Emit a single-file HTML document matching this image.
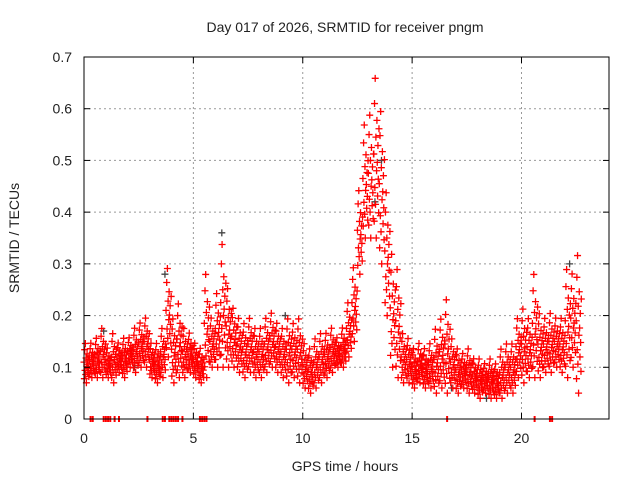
<!DOCTYPE html>
<html><head><meta charset="utf-8"><style>
body{margin:0;background:#fff}
svg text{font-family:"Liberation Sans",sans-serif;fill:#222}
</style></head><body>
<svg id="chart" width="640" height="480" viewBox="0 0 640 480" xmlns="http://www.w3.org/2000/svg">
<rect width="640" height="480" fill="#fff"/>
<text x="345" y="32" font-size="14" text-anchor="middle">Day 017 of 2026, SRMTID for receiver pngm</text>
<text x="345" y="471" font-size="14" text-anchor="middle">GPS time / hours</text>
<text x="19" y="238" font-size="14" text-anchor="middle" transform="rotate(-90 19 238)">SRMTID / TECUs</text>
<g id="grid"></g><g id="marks"></g><g id="axes"></g>
</svg>
<script>
const xTicks=[0,5,10,15,20];
const yTicks=[0,0.1,0.2,0.3,0.4,0.5,0.6,0.7];
const yTickLabels=["0","0.1","0.2","0.3","0.4","0.5","0.6","0.7"];
const binHours=[0,0.25,0.5,0.75,1,1.25,1.5,1.75,2,2.25,2.5,2.75,3,3.25,3.5,3.75,4,4.25,4.5,4.75,5,5.25,5.5,5.75,6,6.25,6.5,6.75,7,7.25,7.5,7.75,8,8.25,8.5,8.75,9,9.25,9.5,9.75,10,10.25,10.5,10.75,11,11.25,11.5,11.75,12,12.25,12.5,12.75,13,13.25,13.5,13.75,14,14.25,14.5,14.75,15,15.25,15.5,15.75,16,16.25,16.5,16.75,17,17.25,17.5,17.75,18,18.25,18.5,18.75,19,19.25,19.5,19.75,20,20.25,20.5,20.75,21,21.25,21.5,21.75,22,22.25,22.5];
const lowValues=[0.07,0.08,0.08,0.08,0.08,0.07,0.09,0.08,0.1,0.09,0.1,0.1,0.08,0.07,0.08,0.12,0.07,0.08,0.08,0.09,0.08,0.07,0.08,0.1,0.1,0.1,0.1,0.1,0.09,0.08,0.09,0.08,0.08,0.09,0.1,0.09,0.08,0.07,0.08,0.07,0.06,0.05,0.06,0.07,0.08,0.09,0.1,0.1,0.12,0.15,0.28,0.35,0.35,0.35,0.3,0.2,0.1,0.08,0.07,0.07,0.06,0.07,0.06,0.06,0.05,0.06,0.05,0.06,0.05,0.06,0.05,0.05,0.04,0.05,0.04,0.04,0.04,0.05,0.05,0.08,0.07,0.08,0.08,0.08,0.09,0.09,0.1,0.09,0.08,0.1,0.05];
const highValues=[0.15,0.15,0.16,0.18,0.14,0.17,0.15,0.16,0.16,0.18,0.19,0.2,0.15,0.15,0.18,0.3,0.2,0.23,0.18,0.17,0.15,0.14,0.29,0.2,0.25,0.35,0.26,0.22,0.2,0.19,0.2,0.18,0.18,0.2,0.21,0.19,0.18,0.2,0.19,0.2,0.15,0.14,0.16,0.17,0.17,0.18,0.16,0.18,0.23,0.3,0.45,0.58,0.6,0.675,0.61,0.45,0.33,0.3,0.17,0.16,0.14,0.15,0.14,0.15,0.18,0.2,0.24,0.16,0.14,0.13,0.14,0.12,0.12,0.11,0.12,0.11,0.14,0.15,0.15,0.2,0.22,0.2,0.29,0.21,0.2,0.21,0.2,0.2,0.3,0.29,0.33];
const grayPoints=[[0.9,0.17],[2.3,0.1],[3.7,0.28],[6.3,0.36],[9.2,0.2],[13.3,0.42],[13.6,0.5],[16.8,0.06],[18.4,0.04],[22.2,0.3]];
const dropoutHours=[0.3,0.4,0.9,1.0,1.1,1.2,1.4,1.6,2.9,3.6,3.7,3.9,4.0,4.1,4.2,4.3,4.5,5.3,5.4,5.5,5.6,16.6,20.6,21.3,21.4];
const X0=84,X1=609,Y0=419,Y1=57,XMAX=24,YMAX=0.7;
const xs=h=>X0+(X1-X0)*h/XMAX, ys=v=>Y0-(Y0-Y1)*v/YMAX;
const NS="http://www.w3.org/2000/svg";
function mk(tag,attrs,parent){const e=document.createElementNS(NS,tag);for(const k in attrs)e.setAttribute(k,attrs[k]);parent.appendChild(e);return e;}
const grid=document.getElementById('grid'),marks=document.getElementById('marks'),axes=document.getElementById('axes');
xTicks.forEach(t=>{
 if(t>0){const g=mk('line',{x1:xs(t),x2:xs(t),y1:Y0,y2:Y1,stroke:'#999','stroke-dasharray':'2,3'},grid);
 
 }
 [[Y0,Y0-6],[Y1,Y1+6]].forEach(p=>mk('line',{x1:xs(t),x2:xs(t),y1:p[0],y2:p[1],stroke:'#000'},axes));
 const l=mk('text',{x:xs(t),y:443,'font-size':14,'text-anchor':'middle'},axes);l.textContent=t;
 
 
});
yTicks.forEach((t,i)=>{
 if(t>0&&t<YMAX){const g=mk('line',{x1:X0,x2:X1,y1:ys(t),y2:ys(t),stroke:'#999','stroke-dasharray':'2,3'},grid);
 
 }
 [[X0,X0+6],[X1,X1-6]].forEach(p=>mk('line',{x1:p[0],x2:p[1],y1:ys(t),y2:ys(t),stroke:'#000'},axes));
 const l=mk('text',{x:72,y:ys(t)+5,'font-size':14,'text-anchor':'end'},axes);l.textContent=yTickLabels[i];
 
 
});
const frame=mk('rect',{x:X0,y:Y1,width:X1-X0,height:Y0-Y1,fill:'none',stroke:'#000'},axes);


function plus(x,y,c){const p=mk('path',{d:`M${x-3.5},${y}h7M${x},${y-3.5}v7`,stroke:c,'stroke-width':1.3,fill:'none'},marks);return p;}
grayPoints.forEach(p=>{const e=plus(xs(p[0]),ys(p[1]),'#444');
 
 });
const frac=[0.5,0.1,0.8,0.3,0.95,0.2,0.6,0.0,0.4,0.7,0.45,0.25,0.55,0.35,0.15,0.65];
binHours.forEach((h,i)=>{const lo=lowValues[i],hi=highValues[i];
 frac.forEach((f,j)=>{const e=plus(xs(h+0.25*j/frac.length),ys(lo+(hi-lo)*f),'#f00');
 
 });});
dropoutHours.forEach(h=>{const e=mk('line',{x1:xs(h),x2:xs(h),y1:Y0-3,y2:Y0+3,stroke:'#f00','stroke-width':2},marks);
 
 });
</script>
</body></html>
